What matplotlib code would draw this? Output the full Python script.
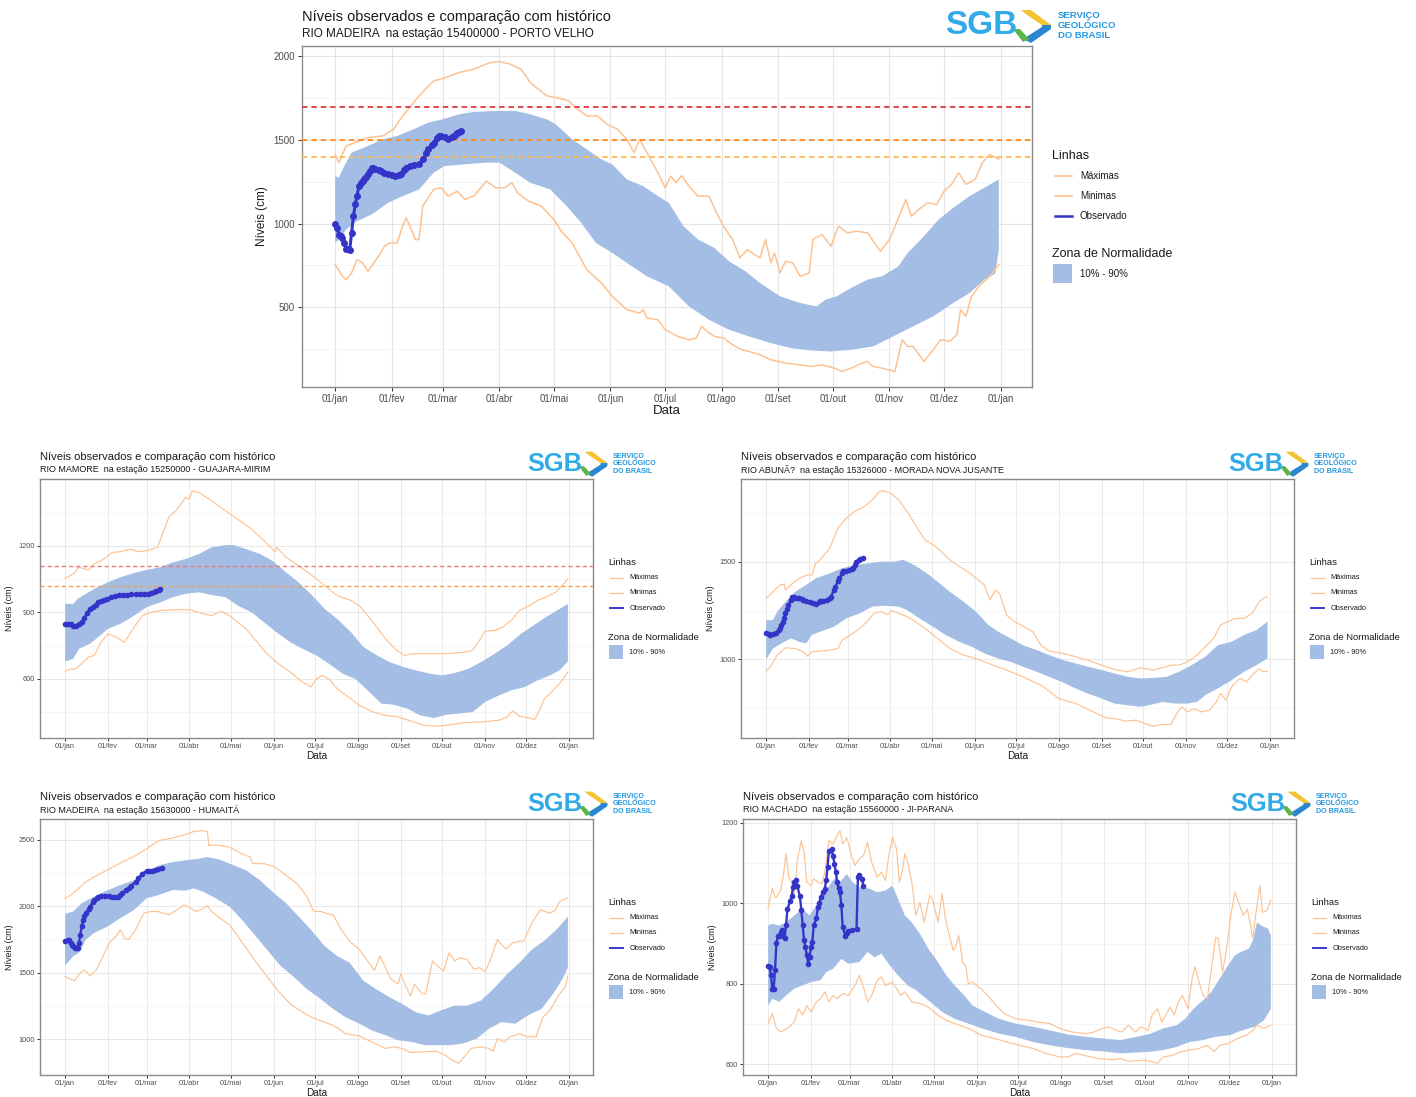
import matplotlib
matplotlib.use("Agg")
import matplotlib.pyplot as plt
from matplotlib.lines import Line2D
from matplotlib.patches import Rectangle, Polygon

plt.rcParams['font.family'] = ['Liberation Sans', 'DejaVu Sans']

W, H = 1416, 1097

# eixo x: dia do ano, marcas no dia 1 de cada mês
MESES = [0, 31, 59, 90, 120, 151, 181, 212, 243, 273, 304, 334, 365]
MESES_ROT = ['01/jan', '01/fev', '01/mar', '01/abr', '01/mai', '01/jun', '01/jul',
             '01/ago', '01/set', '01/out', '01/nov', '01/dez', '01/jan']

TITULO = 'Níveis observados e comparação com histórico'

# ---- PORTO VELHO (rio Madeira) ----  (dia, cm)
PV_MAX = [(0, 1414), (2, 1364), (6, 1464), (18, 1514), (26, 1524), (32, 1564), (37, 1644),
          (46, 1764), (54, 1854), (59, 1868), (68, 1904), (76, 1924), (85, 1964), (90, 1970),
          (96, 1954), (102, 1924), (107, 1844), (116, 1764), (124, 1748), (128, 1734),
          (132, 1694), (138, 1644), (144, 1644), (149, 1594), (155, 1564), (160, 1504),
          (164, 1424), (167, 1504), (171, 1424), (177, 1304), (181, 1214), (184, 1284),
          (187, 1244), (190, 1288), (194, 1224), (199, 1164), (205, 1164), (209, 1068),
          (213, 984), (218, 904), (222, 794), (226, 844), (230, 814), (233, 794), (236, 904),
          (239, 764), (241, 824), (244, 704), (247, 774), (251, 764), (255, 684), (260, 704),
          (262, 904), (267, 934), (272, 864), (276, 984), (281, 944), (286, 954), (292, 944),
          (299, 834), (304, 904), (309, 1034), (313, 1144), (316, 1044), (320, 1084),
          (325, 1124), (330, 1114), (334, 1194), (338, 1234), (342, 1304), (346, 1234),
          (351, 1264), (355, 1364), (359, 1414), (364, 1384)]
PV_MIN = [(0, 754), (4, 684), (6, 664), (9, 704), (12, 784), (15, 764), (18, 714), (20, 744),
          (25, 824), (27, 864), (30, 884), (34, 884), (37, 984), (39, 1034), (41, 984),
          (44, 904), (46, 904), (48, 1104), (54, 1204), (58, 1214), (62, 1164), (67, 1194),
          (71, 1144), (76, 1164), (83, 1254), (88, 1214), (93, 1214), (97, 1244), (100, 1184),
          (106, 1134), (113, 1104), (120, 1024), (124, 954), (130, 884), (138, 724),
          (146, 644), (152, 564), (160, 484), (167, 464), (169, 484), (171, 434), (177, 424),
          (181, 364), (188, 324), (194, 304), (198, 314), (201, 384), (204, 354), (208, 324),
          (213, 314), (218, 274), (223, 244), (227, 234), (233, 214), (239, 184), (247, 164),
          (255, 154), (261, 144), (267, 154), (274, 134), (278, 114), (283, 134), (289, 164),
          (292, 174), (295, 144), (300, 134), (307, 114), (311, 304), (314, 264), (317, 264),
          (323, 174), (328, 244), (332, 304), (337, 294), (341, 334), (343, 484), (346, 444),
          (349, 564), (353, 624), (359, 684), (364, 754)]
PV_P90 = [(0, 1284), (2, 1274), (5, 1344), (9, 1424), (18, 1464), (26, 1504), (34, 1524),
          (43, 1564), (51, 1604), (59, 1624), (68, 1654), (76, 1668), (88, 1674), (99, 1674),
          (107, 1654), (116, 1624), (121, 1594), (130, 1504), (138, 1444), (146, 1384),
          (152, 1354), (160, 1264), (169, 1224), (177, 1164), (183, 1124), (191, 984),
          (199, 904), (208, 854), (216, 774), (225, 714), (233, 644), (244, 564), (255, 524),
          (264, 504), (269, 544), (275, 564), (283, 614), (292, 664), (300, 684), (309, 744),
          (314, 824), (323, 924), (331, 1024), (339, 1094), (348, 1164), (356, 1214),
          (364, 1264)]
PV_P10 = [(0, 884), (2, 904), (6, 964), (12, 1014), (20, 1054), (29, 1124), (37, 1164),
          (46, 1204), (54, 1304), (60, 1344), (71, 1354), (82, 1364), (90, 1364), (96, 1324),
          (107, 1244), (118, 1204), (127, 1104), (135, 1004), (143, 884), (152, 824),
          (160, 764), (171, 684), (183, 624), (194, 504), (205, 424), (216, 364), (227, 324),
          (239, 284), (250, 254), (261, 240), (272, 234), (283, 244), (295, 264), (306, 324),
          (317, 384), (328, 444), (339, 524), (348, 584), (356, 664), (362, 700), (364, 844)]
PV_OBS = [(0, 1000), (1, 974), (2, 934), (3, 924), (4, 914), (5, 884), (6, 848), (7, 846),
          (8, 844), (9, 944), (10, 1044), (11, 1114), (12, 1164), (13, 1224), (14, 1240),
          (15, 1254), (16, 1268), (17, 1280), (18, 1294), (19, 1314), (20, 1334), (21, 1330),
          (22, 1324), (24, 1318), (25, 1314), (27, 1304), (29, 1294), (31, 1288), (33, 1284),
          (35, 1288), (36, 1294), (38, 1320), (39, 1334), (41, 1344), (43, 1348), (46, 1354),
          (48, 1384), (50, 1420), (51, 1444), (53, 1470), (54, 1484), (56, 1510), (57, 1524),
          (58, 1522), (60, 1520), (62, 1508), (64, 1516), (65, 1524), (66, 1534), (67, 1544),
          (68, 1550), (69, 1554)]
PV_REF = [(1700, '#E0383B'), (1500, '#FF8C1A'), (1400, '#FDBA55')]

# ---- GUAJARA-MIRIM (rio Mamoré) ----
GM_MAX = [(0, 1053), (6, 1073), (10, 1103), (17, 1091), (21, 1118), (28, 1140), (34, 1170),
          (40, 1173), (47, 1185), (53, 1173), (59, 1178), (67, 1193), (70, 1245), (75, 1328),
          (80, 1358), (83, 1380), (87, 1418), (90, 1410), (92, 1448), (97, 1440), (106, 1403),
          (116, 1358), (125, 1320), (135, 1275), (144, 1223), (152, 1173), (153, 1193),
          (160, 1148), (169, 1110), (179, 1065), (188, 1020), (197, 975), (207, 953),
          (213, 930), (223, 855), (232, 780), (240, 728), (246, 705), (251, 713), (263, 713),
          (276, 713), (289, 720), (295, 728), (300, 773), (304, 815), (311, 818), (317, 833),
          (323, 863), (329, 908), (336, 930), (342, 953), (348, 968), (355, 990), (361, 1028),
          (364, 1050)]
GM_MIN = [(0, 633), (4, 645), (7, 642), (12, 668), (17, 698), (21, 705), (26, 765), (31, 803),
          (37, 788), (43, 765), (50, 833), (56, 885), (62, 900), (69, 908), (78, 911),
          (91, 911), (100, 893), (106, 885), (113, 905), (119, 885), (125, 855), (131, 825),
          (138, 773), (146, 713), (153, 675), (163, 630), (172, 585), (178, 563), (182, 600),
          (186, 615), (191, 600), (197, 555), (207, 510), (213, 480), (223, 450), (232, 435),
          (241, 428), (251, 408), (260, 390), (270, 386), (279, 393), (289, 402), (301, 405),
          (314, 413), (320, 428), (324, 455), (329, 432), (340, 417), (344, 465), (347, 510),
          (351, 533), (358, 578), (364, 630)]
GM_P90 = [(0, 938), (6, 938), (9, 960), (15, 983), (21, 1005), (31, 1035), (40, 1058),
          (50, 1077), (59, 1091), (69, 1103), (78, 1125), (87, 1140), (97, 1163), (106, 1193),
          (116, 1203), (122, 1203), (131, 1185), (141, 1163), (150, 1133), (160, 1080),
          (169, 1035), (179, 975), (188, 915), (197, 870), (207, 810), (216, 743), (226, 705),
          (235, 675), (245, 653), (254, 638), (264, 623), (273, 615), (282, 626), (292, 645),
          (301, 675), (311, 713), (320, 750), (330, 803), (339, 840), (348, 878), (358, 915),
          (364, 938)]
GM_P10 = [(0, 678), (6, 690), (10, 735), (18, 758), (24, 788), (31, 825), (40, 848),
          (50, 885), (59, 923), (69, 945), (78, 968), (87, 983), (97, 990), (106, 978),
          (116, 968), (125, 930), (135, 900), (144, 855), (153, 810), (163, 765), (172, 735),
          (182, 705), (191, 668), (201, 623), (210, 600), (219, 548), (229, 488), (238, 483),
          (248, 465), (257, 435), (267, 423), (276, 438), (285, 443), (295, 450), (304, 495),
          (314, 525), (323, 548), (333, 563), (342, 593), (351, 615), (358, 638), (364, 678)]
GM_OBS = [(0, 845), (2, 845), (4, 845), (6, 840), (8, 836), (10, 845), (12, 855), (14, 875),
          (16, 898), (18, 915), (20, 925), (22, 935), (24, 945), (26, 950), (28, 957),
          (30, 962), (33, 967), (36, 972), (39, 976), (42, 979), (45, 980), (48, 981),
          (51, 981), (54, 981), (57, 981), (60, 984), (62, 988), (64, 992), (66, 996),
          (68, 1001), (69, 1005)]
GM_REF = [(1110, '#EE7777'), (1020, '#F5A04E')]

# ---- MORADA NOVA JUSANTE (rio Abunã) ----
MN_MAX = [(0, 1312), (5, 1346), (10, 1381), (13, 1385), (14, 1355), (19, 1389), (24, 1415),
          (30, 1432), (33, 1432), (36, 1491), (39, 1509), (46, 1568), (52, 1671), (58, 1722),
          (64, 1756), (71, 1781), (77, 1816), (82, 1858), (85, 1862), (90, 1850), (96, 1816),
          (102, 1756), (108, 1688), (115, 1611), (121, 1585), (127, 1551), (133, 1509),
          (140, 1474), (146, 1449), (152, 1415), (158, 1381), (162, 1304), (166, 1355),
          (169, 1338), (174, 1227), (180, 1193), (187, 1167), (193, 1142), (199, 1073),
          (205, 1043), (215, 1031), (224, 1014), (233, 997), (243, 971), (252, 949),
          (262, 937), (271, 958), (280, 946), (287, 958), (293, 971), (299, 971), (305, 988),
          (312, 1022), (318, 1065), (324, 1108), (329, 1176), (334, 1193), (340, 1210),
          (346, 1210), (352, 1236), (357, 1295), (362, 1321), (363, 1318)]
MN_MIN = [(0, 940), (3, 963), (8, 1022), (14, 1060), (21, 1056), (27, 1039), (30, 1017),
          (33, 1039), (39, 1043), (46, 1048), (52, 1056), (55, 1099), (61, 1125), (68, 1159),
          (74, 1201), (78, 1236), (83, 1244), (88, 1230), (91, 1249), (96, 1236), (102, 1219),
          (108, 1193), (115, 1159), (124, 1108), (133, 1056), (143, 1022), (152, 1005),
          (161, 980), (174, 946), (186, 911), (199, 869), (212, 800), (224, 775), (237, 732),
          (246, 702), (255, 695), (260, 685), (268, 690), (274, 673), (280, 659), (287, 668),
          (293, 668), (298, 732), (301, 758), (305, 732), (310, 749), (315, 732), (321, 741),
          (326, 783), (329, 826), (333, 792), (337, 860), (343, 903), (348, 886), (352, 920),
          (357, 954), (360, 937), (363, 940)]
MN_P90 = [(0, 1201), (5, 1201), (8, 1244), (14, 1295), (21, 1346), (29, 1381), (36, 1415),
          (46, 1440), (55, 1466), (64, 1483), (74, 1491), (83, 1500), (93, 1500), (99, 1509),
          (105, 1491), (111, 1466), (118, 1432), (124, 1398), (133, 1346), (143, 1295),
          (152, 1244), (161, 1176), (168, 1142), (177, 1108), (186, 1073), (196, 1048),
          (205, 1022), (215, 997), (224, 980), (233, 963), (243, 946), (252, 929), (262, 911),
          (271, 903), (280, 906), (290, 911), (299, 937), (308, 971), (318, 1014), (327, 1073),
          (337, 1090), (346, 1125), (355, 1150), (363, 1193)]
MN_P10 = [(0, 1000), (5, 1056), (11, 1082), (18, 1108), (24, 1090), (29, 1082), (33, 1125),
          (39, 1142), (49, 1167), (58, 1210), (68, 1236), (77, 1270), (86, 1275), (96, 1270),
          (102, 1253), (111, 1210), (121, 1167), (130, 1125), (140, 1090), (149, 1065),
          (158, 1031), (168, 1005), (177, 988), (186, 963), (196, 937), (205, 911), (214, 886),
          (224, 852), (233, 826), (243, 800), (252, 775), (262, 766), (271, 758), (277, 766),
          (287, 783), (296, 775), (305, 775), (312, 783), (318, 818), (327, 852), (337, 894),
          (346, 937), (355, 971), (363, 1005)]
MN_OBS = [(0, 1137), (2, 1128), (3, 1125), (5, 1130), (7, 1137), (9, 1150), (10, 1159),
          (11, 1176), (12, 1193), (13, 1214), (14, 1236), (15, 1257), (16, 1278), (18, 1305),
          (19, 1321), (20, 1318), (21, 1316), (23, 1314), (24, 1312), (26, 1307), (27, 1304),
          (29, 1298), (32, 1292), (34, 1287), (36, 1283), (38, 1292), (39, 1299), (41, 1301),
          (44, 1304), (46, 1312), (47, 1321), (49, 1355), (50, 1372), (52, 1400), (53, 1415),
          (55, 1440), (56, 1452), (58, 1454), (60, 1456), (62, 1462), (63, 1466), (64, 1484),
          (65, 1500), (67, 1510), (68, 1514), (70, 1517)]

# ---- HUMAITÁ (rio Madeira) ----
HU_MAX = [(0, 2059), (4, 2084), (9, 2126), (15, 2183), (21, 2220), (31, 2274), (40, 2324),
          (50, 2374), (59, 2431), (68, 2493), (78, 2512), (87, 2537), (93, 2560), (100, 2567),
          (103, 2560), (104, 2455), (109, 2460), (119, 2443), (128, 2393), (134, 2369),
          (136, 2319), (144, 2319), (152, 2294), (160, 2232), (169, 2158), (175, 2071),
          (180, 1960), (185, 1960), (191, 1940), (194, 1935), (200, 1823), (206, 1736),
          (213, 1674), (219, 1588), (224, 1518), (228, 1625), (232, 1538), (236, 1451),
          (241, 1414), (243, 1489), (247, 1389), (250, 1327), (253, 1414), (258, 1347),
          (261, 1340), (266, 1588), (271, 1538), (274, 1513), (278, 1650), (282, 1588),
          (286, 1612), (291, 1600), (296, 1526), (300, 1538), (304, 1506), (308, 1600),
          (313, 1749), (316, 1712), (319, 1679), (324, 1724), (329, 1736), (332, 1736),
          (338, 1873), (344, 1972), (351, 1947), (355, 1972), (358, 2034), (363, 2059),
          (364, 2059)]
HU_MIN = [(0, 1471), (4, 1451), (7, 1439), (10, 1489), (14, 1521), (18, 1476), (23, 1526),
          (28, 1637), (32, 1724), (37, 1774), (40, 1823), (43, 1761), (46, 1749), (51, 1823),
          (57, 1947), (62, 1960), (67, 1960), (75, 1935), (81, 1972), (86, 2009), (91, 1984),
          (95, 1960), (98, 1972), (103, 2002), (106, 1960), (112, 1910), (119, 1860),
          (125, 1774), (135, 1625), (144, 1501), (153, 1377), (163, 1265), (172, 1203),
          (178, 1166), (188, 1129), (194, 1104), (198, 1080), (203, 1042), (213, 1025),
          (222, 980), (232, 931), (238, 943), (244, 931), (250, 901), (260, 906), (269, 911),
          (275, 881), (280, 844), (285, 819), (288, 856), (294, 931), (301, 943), (307, 931),
          (310, 911), (313, 1005), (318, 980), (322, 1018), (329, 1042), (335, 1018),
          (341, 1018), (346, 1166), (351, 1216), (357, 1327), (362, 1389), (364, 1476)]
HU_P90 = [(0, 1942), (6, 1960), (12, 2022), (21, 2071), (31, 2121), (40, 2158), (50, 2195),
          (59, 2257), (68, 2307), (78, 2331), (87, 2344), (97, 2356), (103, 2369), (112, 2349),
          (122, 2307), (131, 2269), (141, 2195), (150, 2108), (160, 2022), (169, 1922),
          (178, 1823), (188, 1699), (197, 1625), (206, 1575), (216, 1439), (225, 1377),
          (235, 1315), (244, 1265), (254, 1203), (263, 1179), (272, 1216), (282, 1253),
          (291, 1253), (301, 1290), (310, 1377), (320, 1489), (329, 1575), (338, 1674),
          (348, 1749), (357, 1836), (364, 1922)]
HU_P10 = [(0, 1555), (6, 1625), (10, 1650), (15, 1749), (21, 1798), (31, 1848), (40, 1910),
          (50, 1972), (59, 2059), (68, 2084), (78, 2121), (87, 2116), (93, 2133), (100, 2108),
          (109, 2059), (119, 1997), (128, 1898), (138, 1774), (147, 1662), (156, 1551),
          (166, 1464), (175, 1377), (185, 1303), (194, 1228), (203, 1166), (213, 1117),
          (222, 1067), (232, 1030), (241, 993), (251, 980), (260, 956), (269, 956), (279, 956),
          (288, 968), (298, 1005), (307, 1080), (316, 1129), (326, 1117), (335, 1179),
          (345, 1228), (354, 1352), (360, 1451), (364, 1538)]
HU_OBS = [(0, 1736), (2, 1745), (3, 1749), (4, 1724), (5, 1710), (6, 1699), (7, 1682),
          (8, 1684), (9, 1687), (10, 1724), (11, 1786), (12, 1848), (13, 1898), (14, 1925),
          (15, 1947), (17, 1980), (18, 1997), (20, 2030), (21, 2046), (23, 2064), (24, 2071),
          (26, 2076), (29, 2079), (32, 2075), (34, 2071), (36, 2071), (38, 2071), (40, 2085),
          (41, 2096), (44, 2118), (46, 2133), (48, 2153), (51, 2183), (53, 2208), (56, 2245),
          (59, 2265), (61, 2265), (63, 2265), (65, 2271), (67, 2277), (70, 2289)]

# ---- JI-PARANA (rio Machado) ----
JP_MAX = [(0, 988), (2, 1020), (3, 1038), (5, 1015), (6, 1015), (9, 1032), (11, 1069),
          (13, 1123), (15, 1065), (17, 1053), (19, 1020), (21, 1102), (24, 1156), (26, 1127),
          (28, 1053), (31, 1044), (33, 1061), (36, 1053), (39, 1049), (41, 1078), (44, 1156),
          (47, 1148), (50, 1169), (52, 1181), (54, 1148), (57, 1164), (60, 1123), (63, 1094),
          (66, 1111), (69, 1119), (72, 1152), (75, 1102), (79, 1065), (82, 1078), (85, 1057),
          (87, 1111), (90, 1164), (93, 1135), (95, 1053), (97, 1078), (99, 1123), (101, 1102),
          (104, 1053), (107, 970), (110, 1003), (113, 953), (115, 986), (117, 1020),
          (119, 1011), (123, 953), (126, 1024), (128, 970), (130, 937), (134, 883), (136, 895),
          (138, 920), (141, 850), (143, 846), (145, 800), (148, 804), (151, 796), (154, 788),
          (160, 767), (165, 746), (171, 726), (179, 713), (189, 709), (195, 705), (204, 701),
          (211, 689), (220, 680), (230, 676), (236, 680), (242, 689), (247, 693), (252, 684),
          (256, 680), (261, 697), (266, 680), (270, 693), (275, 684), (278, 722), (282, 738),
          (285, 705), (288, 722), (291, 742), (294, 722), (297, 755), (300, 771), (304, 738),
          (307, 813), (309, 842), (312, 804), (315, 771), (318, 763), (321, 837), (324, 916),
          (326, 912), (329, 829), (332, 887), (335, 970), (338, 1028), (341, 999), (344, 970),
          (347, 986), (351, 912), (353, 970), (356, 1044), (358, 978), (361, 982), (364, 1007)]
JP_MIN = [(0, 701), (3, 726), (6, 689), (9, 680), (14, 689), (19, 705), (22, 738), (25, 722),
          (28, 746), (31, 730), (35, 755), (38, 763), (41, 780), (44, 755), (47, 771),
          (50, 763), (54, 776), (58, 771), (63, 796), (66, 821), (69, 792), (72, 755),
          (75, 771), (79, 809), (82, 817), (85, 796), (90, 804), (93, 788), (96, 771),
          (99, 780), (104, 755), (110, 751), (116, 742), (123, 722), (129, 709), (135, 701),
          (142, 693), (148, 684), (154, 672), (164, 664), (173, 655), (182, 647), (192, 639),
          (201, 627), (211, 618), (217, 618), (223, 627), (230, 621), (239, 614), (249, 611),
          (255, 614), (261, 607), (271, 610), (277, 607), (282, 602), (286, 618), (293, 622),
          (299, 631), (305, 635), (312, 639), (318, 647), (323, 631), (327, 647), (333, 651),
          (340, 664), (346, 672), (351, 684), (354, 697), (359, 689), (364, 697)]
JP_P90 = [(0, 945), (3, 949), (8, 945), (13, 953), (19, 970), (25, 986), (30, 970), (35, 995),
          (41, 1028), (46, 1053), (49, 1065), (52, 1053), (57, 1073), (61, 1053), (66, 1040),
          (72, 1038), (79, 1028), (85, 1032), (90, 1044), (93, 1020), (96, 995), (99, 970),
          (104, 953), (110, 924), (116, 887), (123, 854), (129, 821), (135, 796), (142, 771),
          (148, 746), (157, 730), (167, 713), (179, 701), (192, 693), (204, 684), (217, 674),
          (230, 668), (242, 664), (255, 660), (267, 668), (277, 676), (286, 689), (296, 697),
          (302, 713), (308, 738), (315, 759), (321, 780), (327, 813), (333, 846), (338, 871),
          (343, 880), (348, 887), (351, 908), (354, 953), (357, 945), (362, 937), (364, 920)]
JP_P10 = [(0, 746), (3, 763), (8, 755), (13, 771), (19, 788), (25, 796), (31, 804), (38, 809),
          (42, 829), (47, 837), (53, 862), (58, 850), (66, 854), (72, 879), (77, 866),
          (82, 875), (88, 846), (94, 821), (101, 796), (107, 784), (116, 759), (126, 730),
          (135, 713), (145, 701), (154, 690), (167, 676), (179, 668), (192, 655), (204, 647),
          (217, 640), (230, 635), (242, 632), (255, 627), (267, 629), (277, 631), (286, 635),
          (296, 643), (305, 655), (315, 660), (324, 668), (334, 672), (343, 684), (352, 693),
          (359, 709), (364, 738)]
JP_OBS = [(0, 843), (1, 842), (2, 823), (3, 786), (4, 786), (5, 835), (6, 902), (7, 918),
          (8, 920), (9, 930), (10, 933), (11, 920), (12, 915), (13, 947), (14, 986), (16, 1007),
          (17, 1018), (18, 1040), (19, 1053), (20, 1057), (21, 1044), (23, 1018), (24, 984),
          (25, 947), (26, 908), (27, 891), (28, 871), (29, 850), (30, 866), (31, 891),
          (32, 904), (33, 945), (35, 963), (36, 991), (37, 1000), (38, 1015), (40, 1028),
          (41, 1036), (42, 1057), (43, 1090), (44, 1131), (46, 1135), (47, 1119), (48, 1098),
          (49, 1078), (50, 1053), (51, 1038), (52, 1028), (53, 996), (54, 941), (56, 918),
          (57, 926), (58, 932), (61, 933), (64, 936), (65, 1065), (66, 1071), (68, 1061),
          (69, 1043)]

COR_FAIXA = '#A3BDE4'
COR_EXTREMO = '#FDC292'
COR_OBS = '#3434C8'


def fx(x):
    return x / W


def fy(y):
    return 1 - y / H


def logo(fig, x, y, s):
    fig.text(fx(x), fy(y), 'SGB', fontsize=24 * s, fontweight='bold', color='#31ABE8',
             ha='left', va='center')
    # marca ao lado do B
    topo = [(x + 76 * s, y - 16 * s), (x + 86 * s, y - 16 * s), (x + 106 * s, y - 1 * s),
            (x + 97 * s, y - 1 * s), (x + 82 * s, y - 11 * s)]
    base = [(x + 97 * s, y - 1 * s), (x + 106 * s, y - 1 * s), (x + 106 * s, y + 3 * s),
            (x + 86 * s, y + 17 * s), (x + 78 * s, y + 13 * s), (x + 97 * s, y + 1 * s)]
    verde = [(x + 68 * s, y + 3 * s), (x + 75 * s, y + 3 * s), (x + 84 * s, y + 13 * s),
             (x + 78 * s, y + 16 * s)]
    for pts, cor in [(topo, '#F3C332'), (base, '#2A86D0'), (verde, '#5DB54A')]:
        fig.add_artist(Polygon([(fx(a), fy(b)) for a, b in pts], closed=True,
                               transform=fig.transFigure, color=cor, lw=0))
    for i, t in enumerate(['SERVIÇO', 'GEOLÓGICO', 'DO BRASIL']):
        fig.text(fx(x + 113 * s), fy(y + (i - 1) * 10 * s), t, fontsize=6.8 * s,
                 fontweight='bold', color='#2598E0', ha='left', va='center')


def legenda(fig, x, y, s):
    fig.text(fx(x), fy(y), 'Linhas', fontsize=9 * s, va='center', color='#1a1a1a')
    itens = [('Máximas', COR_EXTREMO, 1.2), ('Minimas', COR_EXTREMO, 1.2),
             ('Observado', COR_OBS, 1.8)]
    for i, (rot, cor, lw) in enumerate(itens):
        yy = y + (20 + 20 * i) * s
        fig.add_artist(Line2D([fx(x + 3 * s), fx(x + 20 * s)], [fy(yy), fy(yy)],
                              transform=fig.transFigure, color=cor, lw=lw * s))
        fig.text(fx(x + 28 * s), fy(yy), rot, fontsize=7 * s, va='center', color='#1a1a1a')
    fig.text(fx(x), fy(y + 98 * s), 'Zona de Normalidade', fontsize=9 * s, va='center',
             color='#1a1a1a')
    fig.add_artist(Rectangle((fx(x + 1 * s), fy(y + 127 * s)), 19 * s / W, 19 * s / H,
                             transform=fig.transFigure, color=COR_FAIXA, lw=0))
    fig.text(fx(x + 28 * s), fy(y + 118 * s), '10% - 90%', fontsize=7 * s, va='center',
             color='#1a1a1a')


def painel(fig, caixa, subtitulo, maxima, minima, p90, p10, obs, yticks, ymenor, refs, s):
    x0, y0, x1, y1 = caixa
    ax = fig.add_axes([fx(x0), fy(y1), (x1 - x0) / W, (y1 - y0) / H])

    d90, v90 = zip(*p90)
    d10, v10 = zip(*p10)
    ax.fill(list(d90) + list(d10[::-1]), list(v90) + list(v10[::-1]),
            color=COR_FAIXA, lw=0, zorder=1)
    for serie in (maxima, minima):
        d, v = zip(*serie)
        ax.plot(d, v, color=COR_EXTREMO, lw=1.1 * s, zorder=2)
    for nivel, cor in refs:
        ax.axhline(nivel, color=cor, ls=(0, (3, 2.2)), lw=1.3 * s, zorder=3)
    d, v = zip(*obs)
    ax.plot(d, v, color=COR_OBS, lw=2.2 * s, marker='o', ms=4.0 * s, zorder=5)

    # limites como ggplot: 5% além dos dados
    todos = [b for serie in (maxima, minima, p90, p10, obs) for _, b in serie]
    lo, hi = min(todos), max(todos)
    pad = 0.05 * (hi - lo)
    ax.set_ylim(lo - pad, hi + pad)
    ax.set_xlim(-0.05 * 364, 364 * 1.05)

    ax.set_xticks(MESES)
    ax.set_xticklabels(MESES_ROT)
    ax.set_yticks(yticks)
    ax.set_yticks(ymenor, minor=True)
    ax.grid(which='major', color='#E5E5E5', lw=0.8 * s)
    ax.grid(which='minor', axis='y', color='#F2F2F2', lw=0.6 * s)
    ax.set_axisbelow(True)
    for sp in ax.spines.values():
        sp.set_color('#8A8A8A')
        sp.set_linewidth(1.0)
    ax.tick_params(which='major', length=3 * s, width=0.7, color='#333333',
                   labelsize=7 * s, labelcolor='#4D4D4D', pad=2 * s)
    ax.tick_params(which='minor', length=0)
    ax.set_xlabel('Data', fontsize=9.5 * s, labelpad=0.5, color='#1a1a1a')
    ax.set_ylabel('Níveis (cm)', fontsize=8.5 * s, labelpad=4 * s, color='#1a1a1a')

    fig.text(fx(x0), fy(y0 - 29 * s), TITULO, fontsize=10.5 * s, va='center', color='#1a1a1a')
    fig.text(fx(x0), fy(y0 - 12 * s), subtitulo, fontsize=8.5 * s, va='center', color='#1a1a1a')
    logo(fig, x1 - 87 * s, y0 - 20 * s, s)
    legenda(fig, x1 + 20 * s, y0 + 110 * s, s)
    return ax


fig = plt.figure(figsize=(W / 100, H / 100), dpi=100)
fig.patch.set_facecolor('white')

p = 0.76
painel(fig, (302, 46, 1032, 387), 'RIO MADEIRA  na estação 15400000 - PORTO VELHO',
       PV_MAX, PV_MIN, PV_P90, PV_P10, PV_OBS,
       [500, 1000, 1500, 2000], [250, 750, 1250, 1750], PV_REF, 1.0)
painel(fig, (40, 479, 593, 738), 'RIO MAMORE  na estação 15250000 - GUAJARA-MIRIM',
       GM_MAX, GM_MIN, GM_P90, GM_P10, GM_OBS,
       [600, 900, 1200], [450, 750, 1050, 1350], GM_REF, p)
painel(fig, (741, 479, 1294, 738), 'RIO ABUNÃ?  na estação 15326000 - MORADA NOVA JUSANTE',
       MN_MAX, MN_MIN, MN_P90, MN_P10, MN_OBS,
       [1000, 1500], [750, 1250, 1750], [], p)
painel(fig, (40, 819, 593, 1075), 'RIO MADEIRA  na estação 15630000 - HUMAITÁ',
       HU_MAX, HU_MIN, HU_P90, HU_P10, HU_OBS,
       [1000, 1500, 2000, 2500], [750, 1250, 1750, 2250], [], p)
painel(fig, (743, 819, 1296, 1075), 'RIO MACHADO  na estação 15560000 - JI-PARANA',
       JP_MAX, JP_MIN, JP_P90, JP_P10, JP_OBS,
       [600, 800, 1000, 1200], [700, 900, 1100], [], p)

fig.savefig('out.png', dpi=100, facecolor='white')
